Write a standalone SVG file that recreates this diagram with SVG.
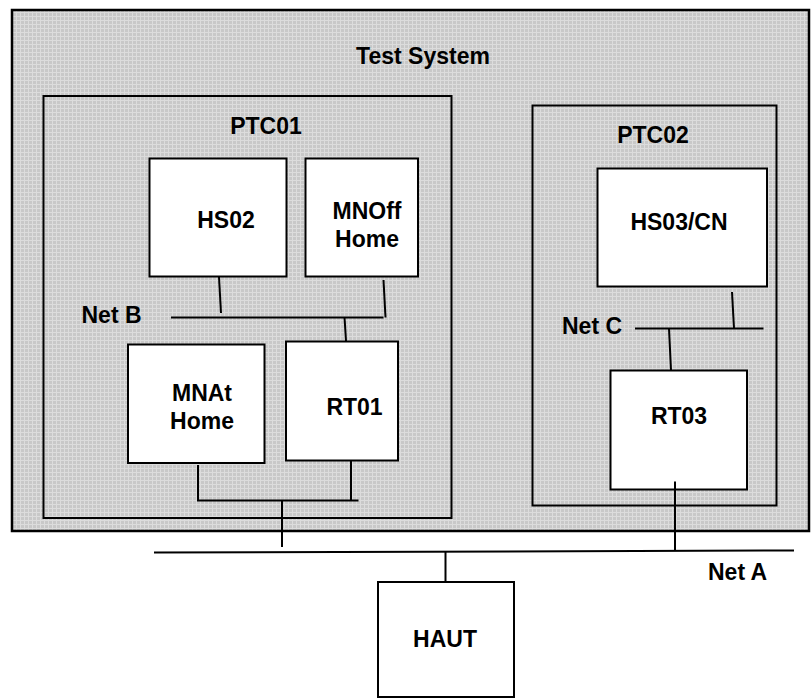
<svg xmlns="http://www.w3.org/2000/svg" width="811" height="698" viewBox="0 0 811 698">
<defs>
<pattern id="grid" x="0" y="0" width="4" height="4" patternUnits="userSpaceOnUse">
<rect width="4" height="4" fill="#c8c8c8"/>
<rect x="0" y="0" width="4" height="1" fill="#dcdcdc"/>
<rect x="0" y="0" width="1" height="4" fill="#dcdcdc"/>
</pattern>
</defs>
<style>
.box{fill:#fff;stroke:#000;stroke-width:2}
.frame{fill:none;stroke:#000;stroke-width:2}
.ln{stroke:#000;stroke-width:2;fill:none}
text{font-family:"Liberation Sans",Arial,sans-serif;font-weight:bold;font-size:23px;fill:#000;text-anchor:middle}
.l{text-anchor:start}
</style>
<rect width="811" height="698" fill="#fff"/>
<g id="test-system">
<rect x="12" y="10" width="797" height="521" fill="url(#grid)" stroke="#000" stroke-width="2.5"/>
<text x="423" y="64">Test System</text>
</g>
<g id="ptc01">
<rect class="frame" x="43.5" y="96" width="408" height="422"/>
<text x="266" y="134">PTC01</text>
</g>
<g id="ptc02">
<rect class="frame" x="532.5" y="105.5" width="244" height="400"/>
<text x="653" y="143">PTC02</text>
</g>
<g id="connectors">
<line class="ln" x1="171" y1="317.5" x2="383.5" y2="317.5"/>
<line class="ln" x1="219" y1="277" x2="221" y2="313"/>
<line class="ln" x1="383.5" y1="280" x2="385.5" y2="317.5"/>
<line class="ln" x1="344.5" y1="317.5" x2="346" y2="341"/>
<line class="ln" x1="198" y1="465" x2="198" y2="500.5"/>
<line class="ln" x1="351" y1="460" x2="351" y2="500.5"/>
<line class="ln" x1="197" y1="500.5" x2="358.5" y2="500.5"/>
<line class="ln" x1="282" y1="500.5" x2="282" y2="547"/>
<line class="ln" x1="154" y1="552.5" x2="794" y2="550.5"/>
<line class="ln" x1="675" y1="481.5" x2="675" y2="550.5"/>
<line class="ln" x1="445.5" y1="551.5" x2="445.5" y2="582"/>
<line class="ln" x1="635" y1="328.5" x2="763.5" y2="328.5"/>
<line class="ln" x1="732" y1="292" x2="734" y2="328.5"/>
<line class="ln" x1="669" y1="328.5" x2="671" y2="370.5"/>
</g>
<g id="hs02">
<rect class="box" x="149.5" y="158.5" width="137" height="118"/>
<text x="226" y="228">HS02</text>
</g>
<g id="mnoff-home">
<rect class="box" x="305.5" y="158.5" width="112.5" height="118"/>
<text x="367" y="219">MNOff</text>
<text x="367" y="246.5">Home</text>
</g>
<g id="mnat-home">
<rect class="box" x="128" y="344.5" width="136.5" height="118.5"/>
<text x="202" y="401">MNAt</text>
<text x="202" y="428.5">Home</text>
</g>
<g id="rt01">
<rect class="box" x="286" y="341.5" width="112" height="119"/>
<text x="354.5" y="415">RT01</text>
</g>
<g id="hs03cn">
<rect class="box" x="597.5" y="168.5" width="169.5" height="118"/>
<text x="679" y="230">HS03/CN</text>
</g>
<g id="rt03">
<rect class="box" x="610.5" y="370.5" width="136.5" height="119"/>
<line class="ln" x1="675" y1="481.5" x2="675" y2="489.5"/>
<text x="679" y="424">RT03</text>
</g>
<g id="haut">
<rect class="box" x="378" y="582" width="136" height="115"/>
<text x="445" y="647">HAUT</text>
</g>
<g id="labels">
<text class="l" x="81.5" y="323">Net B</text>
<text class="l" x="562" y="334">Net C</text>
<text class="l" x="708" y="580">Net A</text>
</g>
</svg>
